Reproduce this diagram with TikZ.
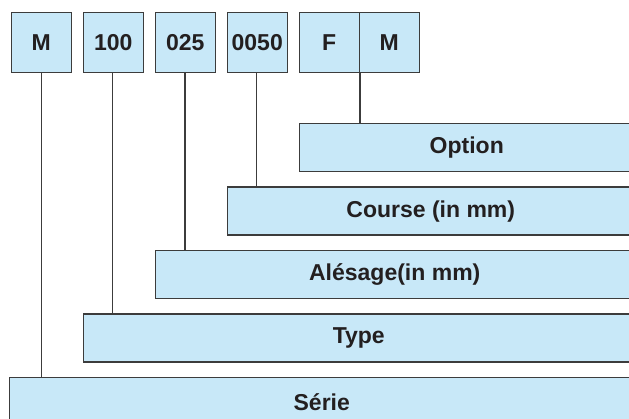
\documentclass[tikz,border=0pt]{standalone}
\usepackage{fontspec}
\setmainfont{Liberation Sans}
\definecolor{boxfill}{HTML}{C8E8F8}
\definecolor{boxline}{HTML}{3C3C3C}
\definecolor{txt}{HTML}{231F20}
\begin{document}
\begin{tikzpicture}[x=1pt,y=-1pt,
  code/.style={draw=boxline,fill=boxfill,line width=1.5pt,rectangle,anchor=north west,
    minimum width=60pt,minimum height=60pt,inner sep=0pt,text=txt,
    font=\fontsize{23}{25}\selectfont\bfseries},
  bar/.style={draw=boxline,fill=boxfill,line width=1.5pt,rectangle,anchor=north west,
    minimum height=48pt,inner sep=0pt,text=txt,
    font=\fontsize{23}{25}\selectfont\bfseries},
  conn/.style={draw=boxline,line width=1.5pt}]
\useasboundingbox (0,0) rectangle (629,419);
\clip (0,0) rectangle (629,419);
% top code boxes
\node[code] (m)  at (10.5,12) {M};
\node[code] (t)  at (82.5,12) {100};
\node[code] (b)  at (154.5,12) {025};
\node[code] (c)  at (226.5,12) {0050};
\node[code] (f)  at (298.5,12) {F};
\node[code] (o)  at (358.5,12) {M};
% bars
\node[bar,minimum width=335pt] (opt) at (298.5,123) {Option};
\node[bar,minimum width=407pt] (cou) at (226.5,186.5) {Course (in mm)};
\node[bar,minimum width=479pt] (ale) at (154.5,250) {Alésage(in mm)};
\node[bar,minimum width=551pt] (typ) at (82.5,313.5) {Type};
\node[bar,minimum width=625pt] (ser) at (8.5,377) {Série};
% connectors
\draw[conn] (m.south) -- (m.south |- ser.north);
\draw[conn] (t.south) ++(-1,0) coordinate (ts) -- (ts |- typ.north);
\draw[conn] (b.south) ++(-0.5,0) coordinate (bs) -- (bs |- ale.north);
\draw[conn] (c.south) ++(-1,0) coordinate (cs) -- (cs |- cou.north);
\draw[conn] (f.south east) -- (f.south east |- opt.north);
\end{tikzpicture}
\end{document}
